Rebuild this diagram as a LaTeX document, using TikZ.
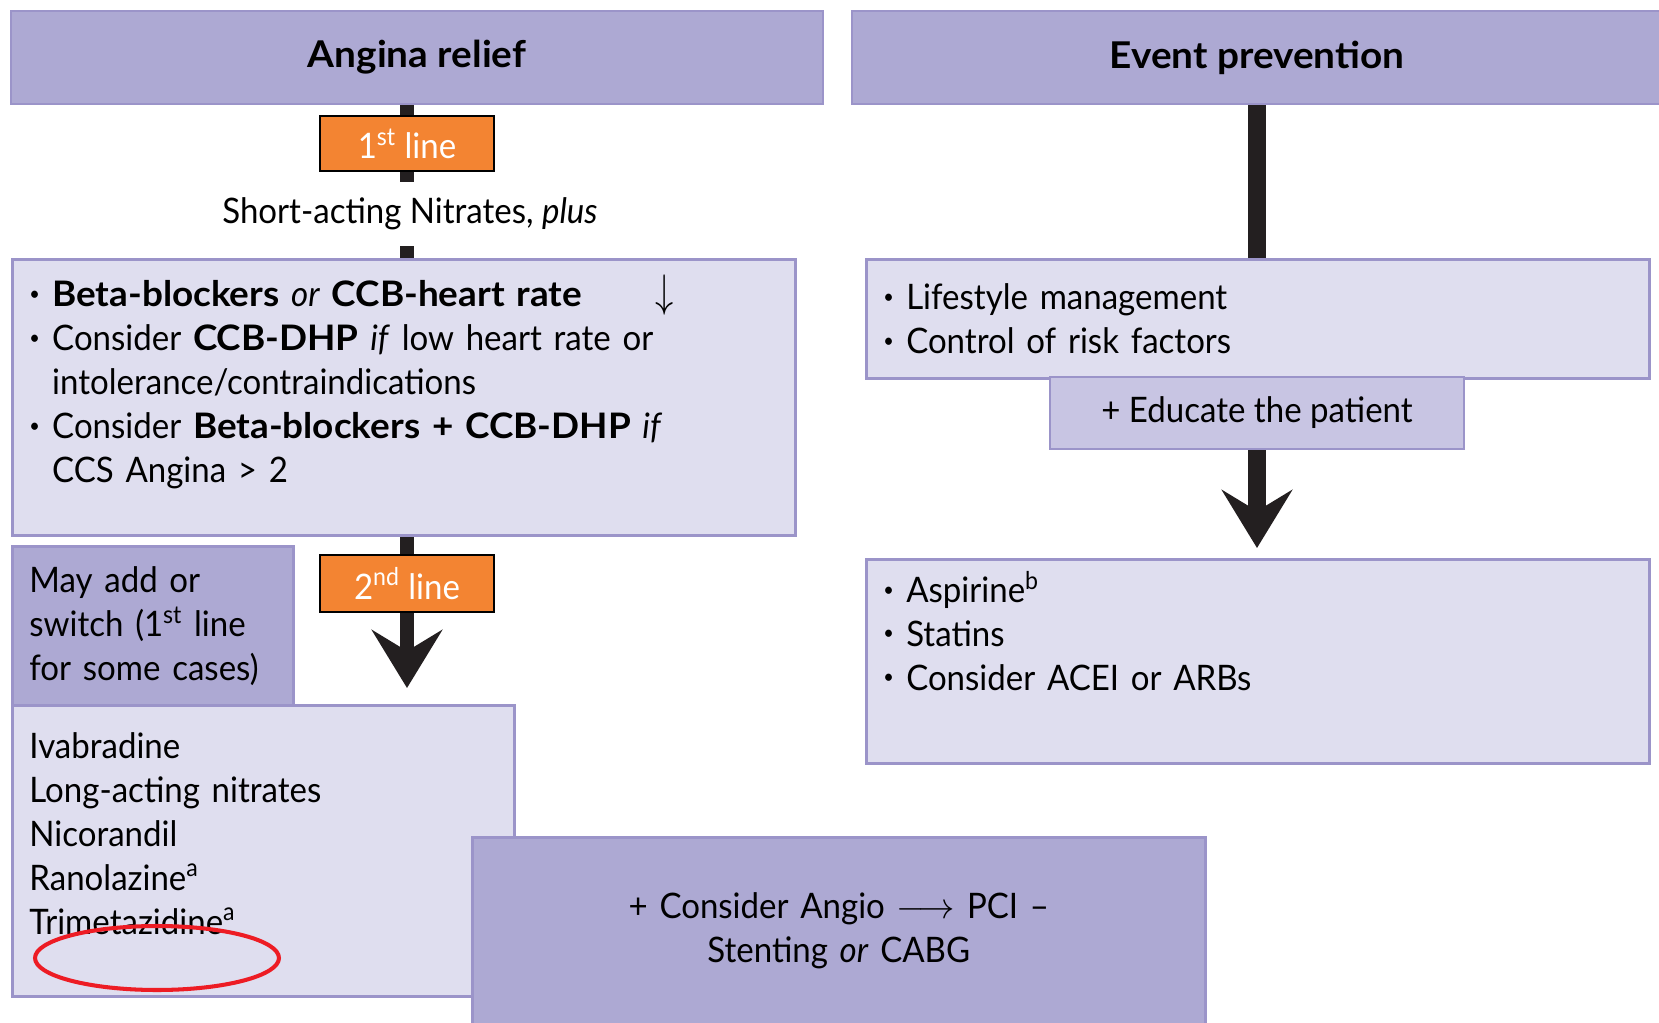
\documentclass[tikz,border=0pt]{standalone}
\usepackage{fontspec}
\setmainfont{Lato}[FakeStretch=0.94, BoldFeatures={FakeStretch=1.05}]
\usetikzlibrary{arrows.meta, positioning, backgrounds}
\definecolor{headpurple}{RGB}{173,169,211}
\definecolor{edgepurple}{RGB}{155,148,201}
\definecolor{lightpurple}{RGB}{223,222,239}
\definecolor{midpurple}{RGB}{200,197,227}
\definecolor{lineorange}{RGB}{243,132,50}
\definecolor{barblack}{RGB}{35,31,32}
\definecolor{ringred}{RGB}{237,28,36}
\tikzset{
    header/.style={rectangle, draw=edgepurple, fill=headpurple, line width=1.6pt, font=\fontsize{21}{25}\selectfont\bfseries},
    listbox/.style={rectangle, draw=edgepurple, fill=lightpurple, line width=1.6pt, anchor=north west, align=left, inner xsep=0.34cm, font=\fontsize{20}{25}\selectfont},
    notebox/.style={listbox, fill=headpurple},
    linetag/.style={rectangle, draw=black, fill=lineorange, line width=1.4pt, text=white, minimum width=3.48cm, font=\fontsize{20}{25}\selectfont},
    bar/.style={barblack, line width=8pt},
    bigarrow/.style={bar, -{Stealth[length=33pt, width=40pt, inset=12pt]}},
}
\newcommand{\bul}{\raisebox{0.18em}{\fontsize{11}{11}\selectfont\textbullet}\hspace{0.35em}}
\newcommand{\indentbullet}{\phantom{\bul}}
\newcommand{\padbelow}[1]{\rule[-#1]{0pt}{#1}}
\newcommand{\tallarrow}{\scalebox{1}[1.25]{$\downarrow$}}

\begin{document}
\begin{tikzpicture}[x=0.02cm, y=-0.02cm]
    \useasboundingbox (0,0) rectangle (1659,1023);
    % column headers
    \node[header, minimum width=16.24cm, minimum height=1.86cm] (ang) at (417,57.5) {Angina relief};
    \node[header, minimum width=16.2cm, minimum height=1.86cm] (evt) at (1257,57.5) {Event prevention};
    % angina relief column
    \node[linetag, minimum height=1.1cm] (first) at (407,143.5) {1\textsuperscript{st} line};
    \node[fill=white, minimum height=1.3cm, inner xsep=2pt, font=\fontsize{20}{25}\selectfont] (nitr) at (410,214) {Short-acting Nitrates, \textit{plus}};
    \node[listbox, minimum width=15.66cm, minimum height=5.52cm, text width=14.98cm] (beta) at (11,258) {%
        \bul\textbf{Beta-blockers} \textit{or} \textbf{CCB-heart rate}\hspace{2.1em}\tallarrow\\
        \bul Consider \textbf{CCB-DHP} \textit{if} low heart rate or\\
        \indentbullet intolerance/contraindications\\
        \bul Consider \textbf{Beta-blockers + CCB-DHP} \textit{if}\\
        \indentbullet CCS Angina > 2\padbelow{21pt}};
    \node[linetag, minimum height=1.14cm] (second) at (407,583.5) {2\textsuperscript{nd} line};
    \node[notebox, minimum width=5.62cm, minimum height=3.18cm, text width=4.94cm] (may) at (11,545) {%
        May add or\\
        switch (1\textsuperscript{st} line\\
        for some cases)};
    \node[listbox, minimum width=10.04cm, minimum height=5.82cm, text width=9.36cm] (ivab) at (11,704) {%
        Ivabradine\\
        Long-acting nitrates\\
        Nicorandil\\
        Ranolazine\textsuperscript{a}\\
        Trimetazidine\textsuperscript{a}\padbelow{20pt}};
    \node[notebox, align=center, minimum width=14.66cm, minimum height=4cm, text width=13.98cm] (angio) at (471,836) {%
        + Consider Angio $\longrightarrow$ PCI --\\
        Stenting \textit{or} CABG\padbelow{11pt}};
    % event prevention column
    \node[listbox, minimum width=15.66cm, minimum height=2.38cm, text width=14.98cm] (life) at (865,258) {%
        \bul Lifestyle management\\
        \bul Control of risk factors};
    \node[listbox, anchor=center, fill=midpurple, align=center, minimum width=8.28cm, minimum height=1.44cm] (edu) at (1257,413) {+ Educate the patient};
    \node[listbox, minimum width=15.66cm, minimum height=4.08cm, text width=14.98cm] (asp) at (865,558) {%
        \bul Aspirine\textsuperscript{b}\\
        \bul Statins\\
        \bul Consider ACEI or ARBs\padbelow{35pt}};
    % connectors
    \begin{scope}[on background layer]
        \draw[bar] (first |- ang.south) -- (first.north);
        \draw[bar] (first.south) -- (first |- beta.north);
        \draw[bar] (second |- beta.south) -- (second.north);
        \draw[bigarrow, shorten >=0.32cm] (second.south) -- (second |- ivab.north);
        \draw[bar, line width=10pt] (evt.south) -- (edu.north);
        \draw[bigarrow, line width=10pt, shorten >=0.2cm] (edu.south) -- (edu |- asp.north);
    \end{scope}
    % marking
    \draw[ringred, line width=2.3pt] (157,958) ellipse [x radius=2.44cm, y radius=0.64cm];
\end{tikzpicture}
\end{document}
